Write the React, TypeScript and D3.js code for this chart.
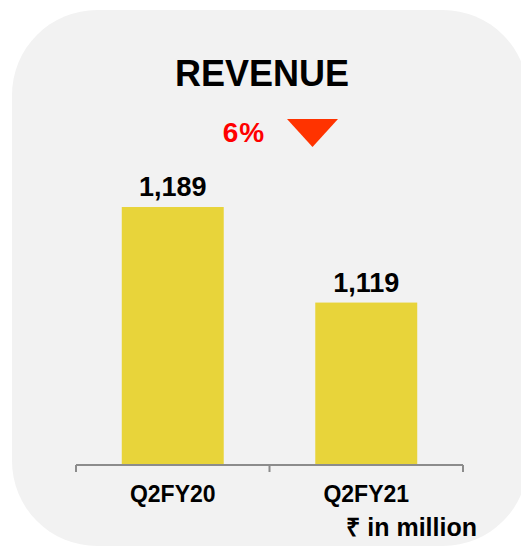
import React from "react";
import * as d3 from "d3";

const categories = ["Q2FY20", "Q2FY21"];
const revenue = [1189, 1119];
const valueLabels = ["1,189", "1,119"];
const title = "REVENUE";
const changeLabel = "6%";
const unitLabel = "₹ in million";

const W = 521;
const H = 547;
const FONT = "'Liberation Sans', Arial, Helvetica, sans-serif";

export default function App() {
  const x = d3
    .scaleBand<string>()
    .domain(categories)
    .range([76, 463])
    .paddingInner(0.473)
    .paddingOuter(0.2365);
  const y = d3.scaleLinear().domain([1000, 1250]).range([465, 123.75]);
  const step = x.step();
  const [r0, r1] = x.range();
  const tickXs = d3.range(categories.length + 1).map((i) => r0 + i * step);

  return (
    <svg
      width={W}
      height={H}
      style={{ position: "absolute", left: 0, top: 0 }}
      fontFamily={FONT}
    >
      <rect x={12} y={10} width={516} height={536} rx={85} ry={85} fill="#f2f2f2" />
      <text x={262} y={86} textAnchor="middle" fontSize={36} fontWeight="bold" fill="#000">
        {title}
      </text>
      <text x={244} y={142} textAnchor="middle" fontSize={28} fontWeight="bold" fill="#ff0000" letterSpacing={1}>
        {changeLabel}
      </text>
      <path d="M287,119 L338,119 L312.5,147 Z" fill="#ff3300" />
      {categories.map((c, i) => (
        <g key={c}>
          <rect
            x={x(c)!}
            y={y(revenue[i])}
            width={x.bandwidth()}
            height={y(1000) - y(revenue[i])}
            fill="#e8d43a"
          />
          <text
            x={x(c)! + x.bandwidth() / 2}
            y={y(revenue[i]) - 11}
            textAnchor="middle"
            fontSize={27}
            fontWeight="bold"
            fill="#000"
          >
            {valueLabels[i]}
          </text>
          <text
            x={x(c)! + x.bandwidth() / 2}
            y={502}
            textAnchor="middle"
            fontSize={23}
            fontWeight="bold"
            fill="#000"
          >
            {c}
          </text>
        </g>
      ))}
      <line x1={r0} x2={r1} y1={y(1000)} y2={y(1000)} stroke="#8c8c8c" strokeWidth={2} />
      {tickXs.map((tx, i) => (
        <line key={i} x1={tx} x2={tx} y1={y(1000)} y2={y(1000) + 7} stroke="#8c8c8c" strokeWidth={2} />
      ))}
      <text x={477} y={536} textAnchor="end" fontSize={25} fontWeight="bold" fill="#000">
        {unitLabel}
      </text>
    </svg>
  );
}
